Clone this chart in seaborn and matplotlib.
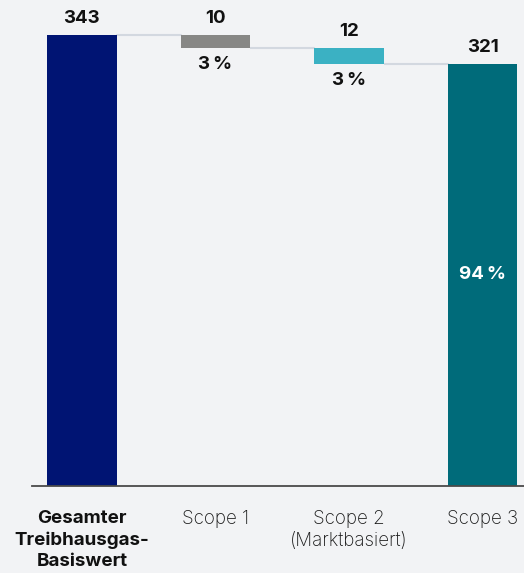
import matplotlib
matplotlib.use("Agg")
import matplotlib.pyplot as plt
import seaborn as sns

# data
categories = ["Gesamter\nTreibhausgas-\nBasiswert", "Scope 1", "Scope 2\n(Marktbasiert)", "Scope 3"]
values = [343, 10, 12, 321]
tops = [343, 343, 333, 321]
bases = [0, 333, 321, 0]
shares = ["", "3\u2009%", "3\u2009%", "94\u2009%"]
colors = ["#001473", "#878785", "#3bb1c3", "#006b7a"]

bg = "#f2f3f5"
sns.set_style("white")
plt.rcParams["font.family"] = ["Inter", "DejaVu Sans"]

fig = plt.figure(figsize=(5.24, 5.73), dpi=100, facecolor=bg)
ax = fig.add_axes([0.061, 0.152, 0.939, 0.787])
ax.set_facecolor(bg)

# full bars up to the top, then mask the part under the floating bars
sns.barplot(x=categories, y=tops, hue=categories, palette=colors, width=0.52,
            legend=False, saturation=1, linewidth=0, ax=ax)
sns.barplot(x=categories, y=bases, color=bg, width=0.52, saturation=1,
            linewidth=0, edgecolor=bg, ax=ax)

ax.set_ylim(0, 343)
ax.set_xlim(-0.374, 3.31)
for s in ["top", "right", "left"]:
    ax.spines[s].set_visible(False)
ax.spines["bottom"].set_color("#4a4a4a")
ax.spines["bottom"].set_linewidth(1.3)
ax.set_yticks([])
ax.set_xlabel("")
ax.set_ylabel("")
ax.tick_params(axis="x", length=0, pad=17)
ax.set_xticks(range(len(categories)))
ax.set_xticklabels(categories, fontsize=13.5, color="#1a1a1a", linespacing=1.35,
                   fontweight="light")
ax.get_xticklabels()[0].set_fontweight("bold")
ax.get_xticklabels()[0].set_color("#111111")

half = 0.26
# connectors
for i in range(len(categories) - 1):
    lvl = tops[i] if i == 0 else bases[i]
    ax.plot([i + half, i + 1 - half], [lvl, lvl], color="#d3d8e0", lw=1.5,
            zorder=0.5, clip_on=False)

# value labels
for i, v in enumerate(values):
    ax.annotate(str(v), (i, tops[i]), xytext=(0, 6), textcoords="offset points",
                ha="center", va="bottom", fontsize=13.5, fontweight="bold",
                color="#111111", annotation_clip=False)

for i in [1, 2]:
    ax.annotate(shares[i], (i, bases[i]), xytext=(0, -6), textcoords="offset points",
                ha="center", va="top", fontsize=13.5, fontweight="bold", color="#111111")

ax.text(3, tops[3] / 2, shares[3], ha="center", va="center", fontsize=13.5,
        fontweight="bold", color="white")

fig.savefig("out.png", dpi=100, facecolor=bg)
